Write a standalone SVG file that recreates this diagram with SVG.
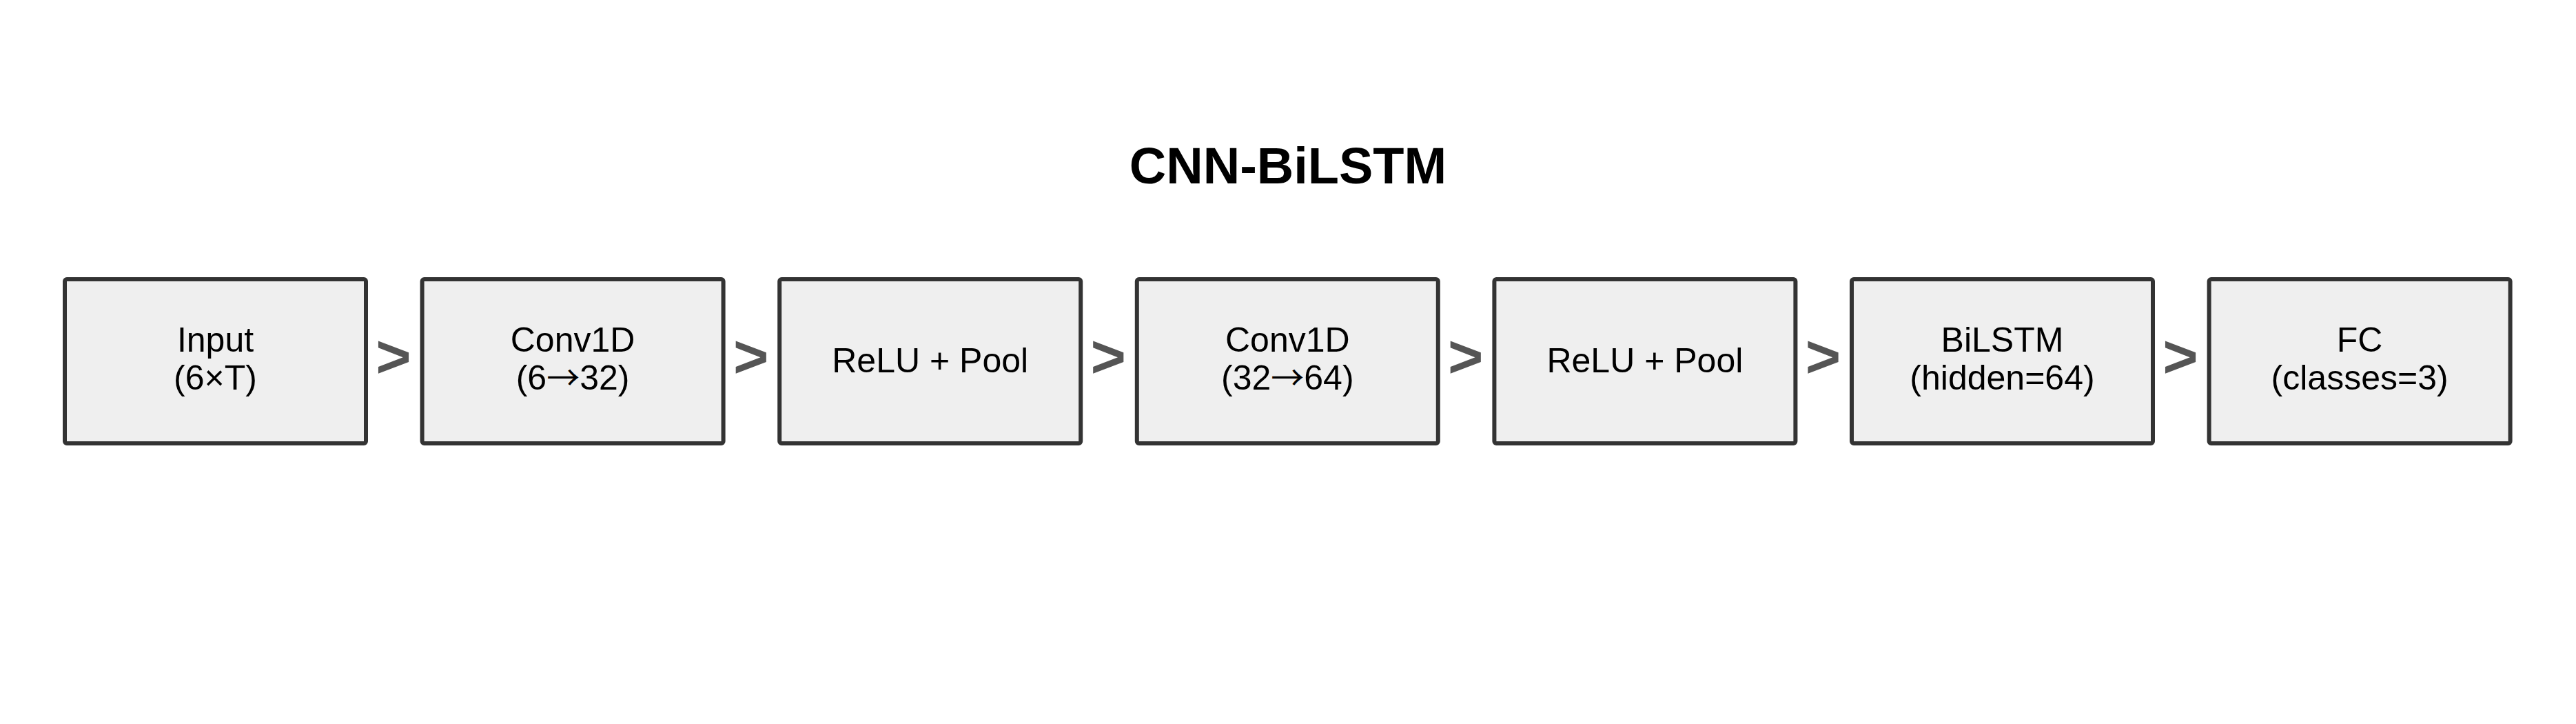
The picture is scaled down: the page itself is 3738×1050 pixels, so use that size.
<svg xmlns="http://www.w3.org/2000/svg" width="3738" height="1050" viewBox="0 0 3738 1050">
<style>
.box{fill:#efefef;stroke:#333333;stroke-width:6}
.lbl{font-family:"Liberation Sans",Arial,sans-serif;font-size:50px;fill:#000;text-anchor:middle}
.ar{font-family:"Noto Sans CJK SC","Liberation Sans",sans-serif;font-size:48px}
.arr{font-family:"Liberation Sans",Arial,sans-serif;font-size:88px;font-weight:bold;fill:#555555;text-anchor:middle}
.title{font-family:"Liberation Sans",Arial,sans-serif;font-size:74px;font-weight:bold;fill:#000;text-anchor:middle}
</style>
<rect width="3738" height="1050" fill="#ffffff"/>
<text class="title" x="1869" y="266">CNN-BiLSTM</text>
<g id="connectors">
<text class="arr" x="571" y="547">&gt;</text>
<text class="arr" x="1089.6" y="547">&gt;</text>
<text class="arr" x="1608.2" y="547">&gt;</text>
<text class="arr" x="2126.8" y="547">&gt;</text>
<text class="arr" x="2645.4" y="547">&gt;</text>
<text class="arr" x="3164" y="547">&gt;</text>
</g>
<g id="input"><rect class="box" x="94" y="405" width="437" height="238" rx="3"/>
<text class="lbl" x="312.5" y="510">Input</text><text class="lbl" x="312.5" y="565">(6×T)</text></g>
<g id="conv1"><rect class="box" x="612.6" y="405" width="437" height="238" rx="3"/>
<text class="lbl" x="831.1" y="510">Conv1D</text><text class="lbl" x="831.1" y="565">(6<tspan class="ar">→</tspan>32)</text></g>
<g id="pool1"><rect class="box" x="1131.2" y="405" width="437" height="238" rx="3"/>
<text class="lbl" x="1349.7" y="540">ReLU + Pool</text></g>
<g id="conv2"><rect class="box" x="1649.8" y="405" width="437" height="238" rx="3"/>
<text class="lbl" x="1868.3" y="510">Conv1D</text><text class="lbl" x="1868.3" y="565">(32<tspan class="ar">→</tspan>64)</text></g>
<g id="pool2"><rect class="box" x="2168.4" y="405" width="437" height="238" rx="3"/>
<text class="lbl" x="2386.9" y="540">ReLU + Pool</text></g>
<g id="bilstm"><rect class="box" x="2687" y="405" width="437" height="238" rx="3"/>
<text class="lbl" x="2905.5" y="510">BiLSTM</text><text class="lbl" x="2905.5" y="565">(hidden=64)</text></g>
<g id="fc"><rect class="box" x="3205.6" y="405" width="437" height="238" rx="3"/>
<text class="lbl" x="3424.1" y="510">FC</text><text class="lbl" x="3424.1" y="565">(classes=3)</text></g>
</svg>
